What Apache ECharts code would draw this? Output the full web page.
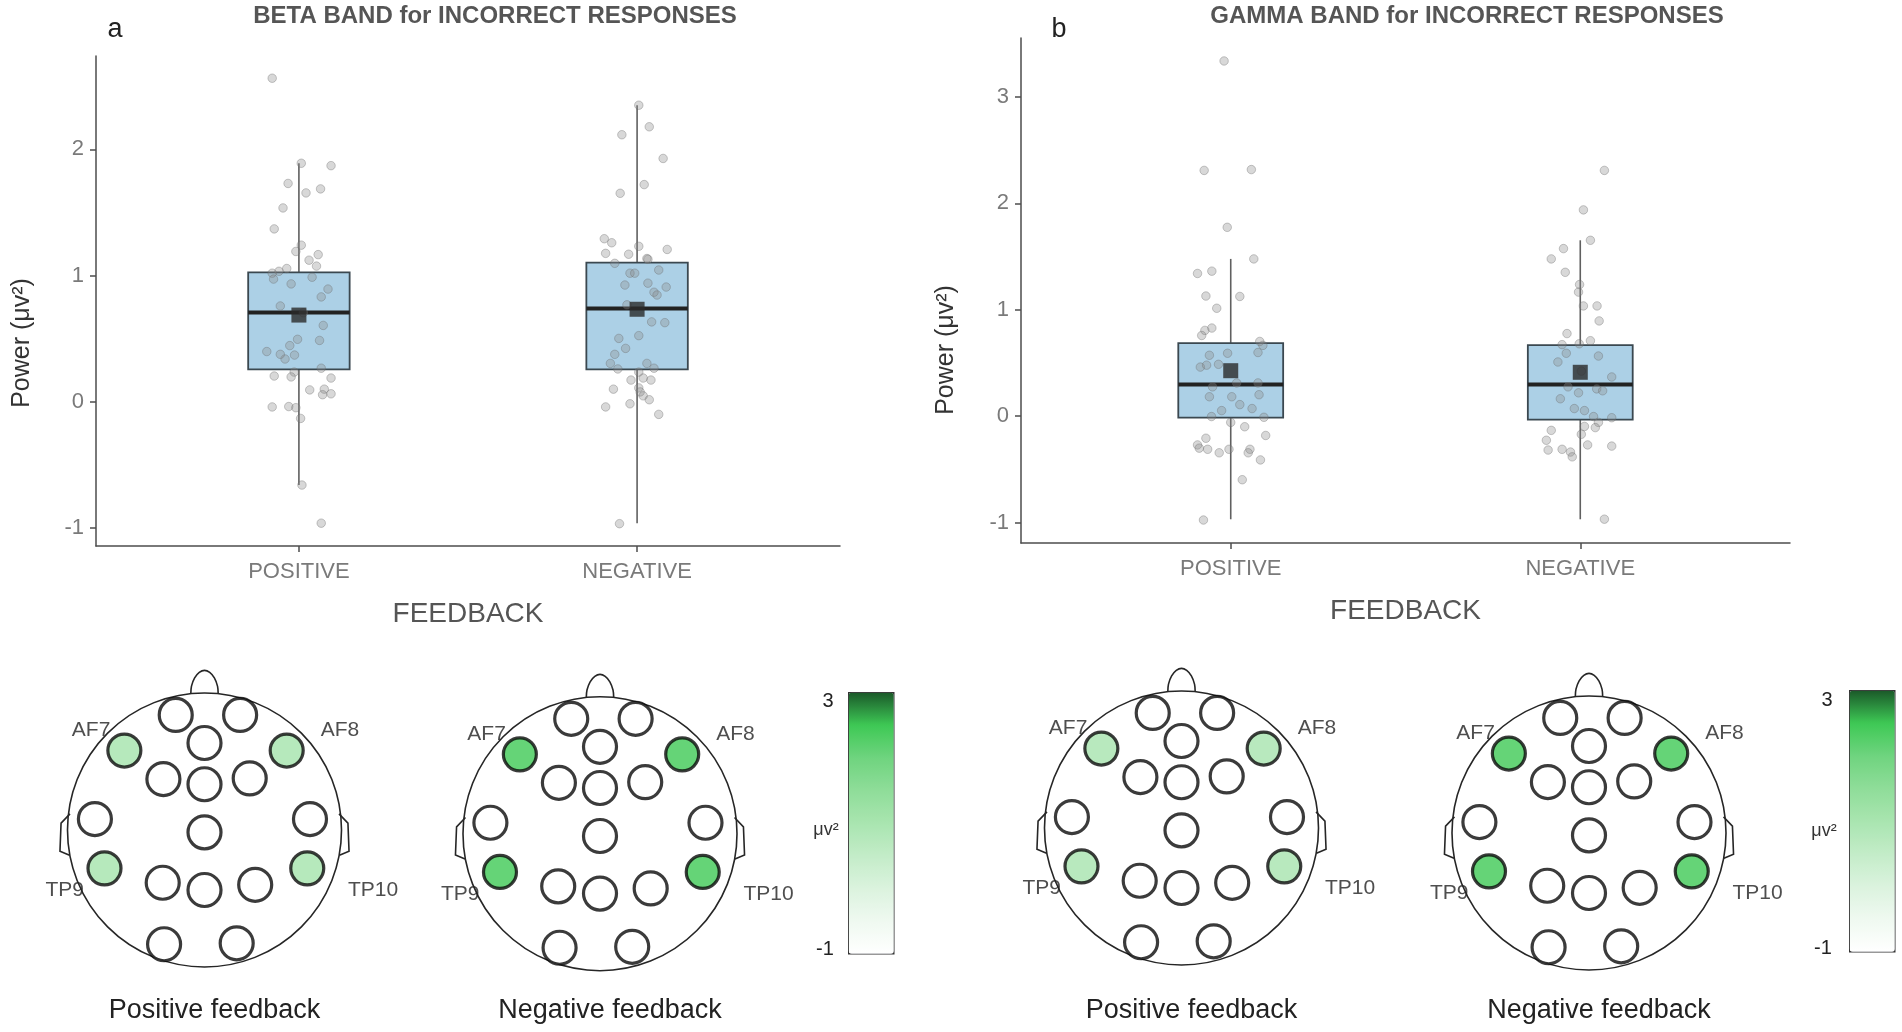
<!DOCTYPE html>
<html>
<head>
<meta charset="utf-8">
<script src="https://cdn.jsdelivr.net/npm/echarts@6/dist/echarts.min.js"></script>
<style>
html,body{margin:0;padding:0;background:#fff;}
#chart{width:1902px;height:1032px;}
</style>
</head>
<body>
<div id="chart"></div>
<script>
// ---------------- DATA ----------------
const categories = ['POSITIVE', 'NEGATIVE'];
const yTicksBeta = [-1, 0, 1, 2];
const yTicksGamma = [-1, 0, 1, 2, 3];

// [lower whisker, Q1, median, Q3, upper whisker]
const betaBox = [[-0.66, 0.257, 0.708, 1.025, 1.89], [-0.962, 0.257, 0.740, 1.103, 2.35]];
const betaMeans = [0.687, 0.733];
const gammaBox = [[-0.97, -0.015, 0.297, 0.687, 1.478], [-0.97, -0.033, 0.297, 0.668, 1.653]];
const gammaMeans = [0.427, 0.412];

// jittered observations: [horizontal jitter offset, power]
const betaPositivePoints = [
 [-0.079,2.564],[0.007,1.89],[0.095,1.871],[-0.032,1.730],[0.064,1.687],[0.021,1.655],[-0.047,1.536],
 [-0.073,1.370],[0.007,1.241],[-0.009,1.191],[0.057,1.166],[0.030,1.122],[0.052,1.075],[-0.036,1.056],
 [-0.059,1.034],[-0.079,1.019],[-0.075,0.972],[-0.023,0.934],[0.039,0.987],[0.086,0.893],[0.066,0.831],
 [-0.055,0.759],[0.013,0.705],[0.072,0.605],[-0.004,0.495],[0.061,0.486],[-0.027,0.445],[-0.095,0.398],
 [-0.041,0.339],[-0.013,0.370],[-0.055,0.376],[0.066,0.266],[-0.014,0.235],[-0.073,0.204],[-0.023,0.197],
 [0.095,0.188],[0.032,0.094],[0.075,0.100],[0.070,0.056],[0.095,0.063],[-0.079,-0.041],[-0.030,-0.038],
 [-0.009,-0.047],[0.005,-0.132],[0.009,-0.66],[0.066,-0.962]
];
const betaNegativePoints = [
 [0.005,2.35],[0.036,2.179],[-0.045,2.116],[0.077,1.928],[0.021,1.721],[-0.050,1.652],[-0.097,1.292],
 [-0.075,1.260],[0.005,1.232],[0.089,1.207],[-0.093,1.176],[-0.025,1.169],[0.029,1.135],[0.032,1.129],
 [-0.066,1.097],[-0.021,1.019],[-0.007,1.019],[0.064,1.044],[0.032,0.940],[-0.036,0.925],[0.086,0.909],
 [0.050,0.868],[0.059,0.846],[-0.030,0.768],[0.043,0.633],[0.082,0.627],[0.005,0.524],[-0.054,0.502],
 [-0.034,0.423],[-0.066,0.376],[-0.079,0.304],[0.029,0.304],[0.050,0.266],[-0.057,0.260],[0.005,0.235],
 [0.018,0.188],[-0.018,0.172],[0.041,0.172],[0.005,0.110],[-0.070,0.100],[0.009,0.078],[0.018,0.047],
 [0.036,0.016],[-0.021,-0.016],[-0.093,-0.041],[0.064,-0.100],[-0.052,-0.966]
];
const gammaPositivePoints = [
 [-0.019,3.339],[-0.076,2.310],[0.059,2.318],[-0.010,1.775],[0.066,1.478],[-0.095,1.341],[-0.054,1.363],
 [-0.071,1.129],[0.026,1.125],[-0.040,1.014],[-0.054,0.828],[-0.074,0.806],[-0.083,0.758],[0.083,0.702],
 [0.092,0.665],[-0.061,0.572],[-0.009,0.591],[0.078,0.598],[-0.087,0.461],[-0.069,0.479],[-0.035,0.487],
 [-0.052,0.275],[0.017,0.312],[0.078,0.312],[0.003,0.182],[0.081,0.201],[-0.061,0.182],[-0.026,0.052],
 [0.061,0.071],[0.026,0.108],[-0.055,-0.004],[0.095,-0.011],[0.000,-0.059],[0.040,-0.100],[0.100,-0.182],
 [-0.071,-0.208],[-0.095,-0.271],[-0.090,-0.301],[-0.066,-0.312],[-0.005,-0.312],[-0.033,-0.345],
 [0.055,-0.312],[0.050,-0.345],[0.085,-0.412],[0.033,-0.598],[-0.078,-0.977]
];
const gammaNegativePoints = [
 [0.069,2.310],[0.009,1.939],[0.029,1.653],[-0.048,1.575],[-0.083,1.478],[-0.043,1.352],[-0.002,1.237],
 [-0.005,1.166],[0.009,1.036],[0.048,1.036],[0.054,0.895],[-0.038,0.776],[0.029,0.709],[-0.052,0.672],
 [-0.003,0.680],[0.052,0.565],[-0.040,0.591],[-0.064,0.509],[0.003,0.423],[0.090,0.368],[-0.035,0.275],
 [0.047,0.256],[0.064,0.238],[-0.005,0.219],[-0.057,0.163],[-0.017,0.071],[0.012,0.052],[0.038,-0.004],
 [0.090,-0.015],[0.052,-0.059],[0.012,-0.097],[0.043,-0.108],[-0.083,-0.134],[0.003,-0.171],[-0.097,-0.227],
 [0.021,-0.271],[0.090,-0.282],[-0.092,-0.319],[-0.052,-0.312],[-0.028,-0.338],[-0.023,-0.383],[0.069,-0.969]
];

// topographic maps (head radius = 1)
const electrodeNames = ['Fp1','Fp2','Fpz','AF7','AF8','F3','Fz','F4','T7','T8','Cz','TP9','TP10','P3','Pz','P4','O1','O2'];
const electrodeX = [-0.21, 0.26, 0.0, -0.585, 0.60, -0.30, 0.0, 0.33, -0.80, 0.77, 0.0, -0.73, 0.75, -0.305, 0.0, 0.37, -0.295, 0.235];
const electrodeY = [0.84, 0.84, 0.635, 0.58, 0.58, 0.372, 0.334, 0.377, 0.08, 0.08, -0.017, -0.28, -0.28, -0.385, -0.438, -0.40, -0.834, -0.827];
const activeElectrodes = ['AF7', 'AF8', 'TP9', 'TP10'];
const betaPositiveValues = [1.1, 1.1, 1.1, 1.1];
const betaNegativeValues = [2.5, 2.5, 2.5, 2.5];
const gammaPositiveValues = [1.05, 1.05, 1.05, 1.05];
const gammaNegativeValues = [2.5, 2.5, 2.5, 2.5];
const labelNames = ['AF7', 'AF8', 'TP9', 'TP10'];
const labelX = [-0.828, 0.989, -1.02, 1.23];
const labelY = [0.730, 0.730, -0.44, -0.44];
const noseOutline = [[-0.10,0.995],[-0.095,1.05],[-0.072,1.11],[-0.038,1.15],[0,1.165],[0.038,1.15],[0.072,1.11],[0.095,1.05],[0.10,0.995]];
const leftEarOutline = [[-0.982,0.118],[-1.047,0.05],[-1.055,-0.155],[-0.985,-0.185]];
const rightEarOutline = leftEarOutline.map(p => [-p[0], p[1]]);
const colorScaleMin = -1, colorScaleMax = 3;
const colorScale = ['#ffffff','#eff9f0','#dbf3de','#c3ecc8','#a9e5b0','#8fdd99','#6fd47f','#3ec955','#1b5a2a'];
const headTitles = ['Positive feedback', 'Negative feedback', 'Positive feedback', 'Negative feedback'];

// ---------------- LAYOUT / STYLE ----------------
const FONT = "'Liberation Sans', Arial, sans-serif";
const AXIS_COLOR = '#4d4d4d';
const BOX_WIDTH = 0.30;
const HEAD_UNIT = 137;                  // px per head radius
const HEAD_RANGE = 1.45;
const headCenters = [[204.5, 830], [600, 834], [1181.5, 828], [1589, 833]];

const chart = echarts.init(document.getElementById('chart'), null, {renderer: 'canvas'});

function renderBox(params, api) {
  const x = api.value(0), lo = api.value(1), q1 = api.value(2), md = api.value(3), q3 = api.value(4), hi = api.value(5);
  const hw = BOX_WIDTH / 2;
  const pHi = api.coord([x, hi]), pQ3 = api.coord([x, q3]), pQ1 = api.coord([x, q1]), pLo = api.coord([x, lo]);
  const tl = api.coord([x - hw, q3]), br = api.coord([x + hw, q1]);
  const mL = api.coord([x - hw, md]), mR = api.coord([x + hw, md]);
  const ws = {stroke: '#606060', lineWidth: 1.6};
  return {type: 'group', children: [
    {type: 'line', shape: {x1: pHi[0], y1: pHi[1], x2: pQ3[0], y2: pQ3[1]}, style: ws},
    {type: 'line', shape: {x1: pQ1[0], y1: pQ1[1], x2: pLo[0], y2: pLo[1]}, style: ws},
    {type: 'rect', shape: {x: tl[0], y: tl[1], width: br[0] - tl[0], height: br[1] - tl[1]},
      style: {fill: '#acd0e6', stroke: '#3b4850', lineWidth: 1.8}},
    {type: 'line', shape: {x1: mL[0], y1: mL[1], x2: mR[0], y2: mR[1]}, style: {stroke: '#222222', lineWidth: 4}}
  ]};
}

function renderHead(params, api) {
  const c = api.coord([0, 0]);
  const e = api.coord([1, 0]);
  const r = e[0] - c[0];
  const pts = arr => arr.map(p => api.coord(p));
  const st = {stroke: '#262626', lineWidth: 1.6, fill: null};
  return {type: 'group', children: [
    {type: 'circle', shape: {cx: c[0], cy: c[1], r: r}, style: {stroke: '#262626', lineWidth: 1.6, fill: 'rgba(0,0,0,0)'}},
    {type: 'polyline', shape: {points: pts(noseOutline), smooth: 0.3}, style: st},
    {type: 'polyline', shape: {points: pts(leftEarOutline)}, style: st},
    {type: 'polyline', shape: {points: pts(rightEarOutline)}, style: st}
  ]};
}

const grids = [
  {left: 96, top: 56, width: 744, height: 490},
  {left: 1021, top: 38, width: 769, height: 505}
];
const xAxes = [], yAxes = [];

function boxAxes(gi, yMin, yMax, ticks) {
  xAxes.push({
    type: 'value', gridIndex: gi, min: 0.4, max: 2.6,
    axisLine: {show: true, onZero: false, lineStyle: {color: AXIS_COLOR, width: 1.5}},
    axisTick: {show: true, customValues: [1, 2], length: 6, lineStyle: {color: AXIS_COLOR, width: 1.5}},
    axisLabel: {customValues: [1, 2], formatter: v => categories[Math.round(v) - 1], color: '#7a7a7a',
      fontSize: 22, margin: 15, fontFamily: FONT},
    splitLine: {show: false},
    name: 'FEEDBACK', nameLocation: 'middle', nameGap: 54,
    nameTextStyle: {fontSize: 28, color: '#555555', fontFamily: FONT}
  });
  yAxes.push({
    type: 'value', gridIndex: gi, min: yMin, max: yMax,
    axisLine: {show: true, onZero: false, lineStyle: {color: AXIS_COLOR, width: 1.5}},
    axisTick: {show: true, customValues: ticks, length: 6, lineStyle: {color: AXIS_COLOR, width: 1.5}},
    axisLabel: {customValues: ticks, color: '#7a7a7a', fontSize: 22, margin: 12, fontFamily: FONT},
    splitLine: {show: false}
  });
}
boxAxes(0, -1.143, 2.74, yTicksBeta);
boxAxes(1, -1.193, 3.555, yTicksGamma);

const series = [];
function boxSeries(ai, box, means, posPts, negPts) {
  series.push({
    type: 'custom', xAxisIndex: ai, yAxisIndex: ai, renderItem: renderBox, clip: false, z: 2,
    data: box.map((b, i) => [i + 1].concat(b)), encode: {x: 0, y: [1, 2, 3, 4, 5]}
  });
  series.push({
    type: 'scatter', xAxisIndex: ai, yAxisIndex: ai, symbol: 'circle', symbolSize: 8.5, z: 3,
    itemStyle: {color: 'rgba(140,140,140,0.42)', borderColor: 'rgba(105,105,105,0.45)', borderWidth: 1},
    data: posPts.map(p => [1 + p[0], p[1]]).concat(negPts.map(p => [2 + p[0], p[1]]))
  });
  series.push({
    type: 'scatter', xAxisIndex: ai, yAxisIndex: ai, symbol: 'rect', symbolSize: 15, z: 4,
    itemStyle: {color: '#2b2b2b'},
    data: means.map((m, i) => [i + 1, m])
  });
}
boxSeries(0, betaBox, betaMeans, betaPositivePoints, betaNegativePoints);
boxSeries(1, gammaBox, gammaMeans, gammaPositivePoints, gammaNegativePoints);

const headValues = [betaPositiveValues, betaNegativeValues, gammaPositiveValues, gammaNegativeValues];
const activeSeriesIdx = [[], []];
headCenters.forEach((c, h) => {
  const gi = grids.length;
  const side = 2 * HEAD_RANGE * HEAD_UNIT;
  grids.push({left: c[0] - side / 2, top: c[1] - side / 2, width: side, height: side});
  xAxes.push({type: 'value', gridIndex: gi, min: -HEAD_RANGE, max: HEAD_RANGE, show: false});
  yAxes.push({type: 'value', gridIndex: gi, min: -HEAD_RANGE, max: HEAD_RANGE, show: false});
  series.push({type: 'custom', xAxisIndex: gi, yAxisIndex: gi, renderItem: renderHead, clip: false,
    data: [[0, 0]], encode: {x: 0, y: 1}, z: 2, silent: true});
  const inactive = [], active = [];
  electrodeNames.forEach((n, k) => {
    const ai = activeElectrodes.indexOf(n);
    if (ai < 0) inactive.push([electrodeX[k], electrodeY[k]]);
    else active.push([electrodeX[k], electrodeY[k], headValues[h][ai]]);
  });
  series.push({type: 'scatter', xAxisIndex: gi, yAxisIndex: gi, symbol: 'circle', symbolSize: 33, z: 3,
    itemStyle: {color: '#ffffff', borderColor: '#0a0a0a', borderWidth: 3.2}, data: inactive, silent: true});
  activeSeriesIdx[h < 2 ? 0 : 1].push(series.length);
  series.push({type: 'scatter', xAxisIndex: gi, yAxisIndex: gi, symbol: 'circle', symbolSize: 33, z: 3,
    itemStyle: {borderColor: '#0a0a0a', borderWidth: 3.2}, data: active, silent: true});
  series.push({type: 'scatter', xAxisIndex: gi, yAxisIndex: gi, symbolSize: 0, z: 5, silent: true, clip: false,
    label: {show: true, position: 'inside', formatter: p => p.data[2], color: '#222222', fontSize: 21, fontFamily: FONT},
    data: labelNames.map((n, k) => [labelX[k], labelY[k], n])});
});

function vm(idx, left, top) {
  return {type: 'continuous', min: colorScaleMin, max: colorScaleMax, dimension: 2, seriesIndex: idx,
    inRange: {color: colorScale}, calculable: false, orient: 'vertical', left: left, top: top,
    itemWidth: 45, itemHeight: 261, padding: 0, borderColor: '#333333', borderWidth: 1.5,
    text: null, hoverLink: false};
}

function txt(x, y, text, size, color, opts) {
  return Object.assign({type: 'text', x: x, y: y, silent: true,
    style: Object.assign({text: text, fontSize: size, fill: color, fontFamily: FONT, align: 'center', verticalAlign: 'middle'}, (opts && opts.style) || {})},
    (opts && opts.el) || {});
}

const graphics = [
  txt(495, 16, 'BETA BAND for INCORRECT RESPONSES', 24, '#555555', {style: {fontWeight: 'bold'}}),
  txt(1467, 16, 'GAMMA BAND for INCORRECT RESPONSES', 24, '#555555', {style: {fontWeight: 'bold'}}),
  txt(115, 30, 'a', 27, '#222222'),
  txt(1059, 30, 'b', 27, '#222222'),
  txt(22, 343, 'Power (μv²)', 25, '#333333', {el: {rotation: Math.PI / 2}}),
  txt(946, 350, 'Power (μv²)', 25, '#333333', {el: {rotation: Math.PI / 2}}),
  txt(828, 701, '3', 20, '#222222'),
  txt(825, 949, '-1', 20, '#222222'),
  txt(826, 830, 'μv²', 18, '#333333'),
  txt(1827, 700, '3', 20, '#222222'),
  txt(1823, 948, '-1', 20, '#222222'),
  txt(1824, 831, 'μv²', 18, '#333333')
];
headCenters.forEach((c, h) => graphics.push(txt(c[0] + 10, 1011, headTitles[h], 27, '#222222')));

chart.setOption({
  animation: false,
  backgroundColor: '#ffffff',
  grid: grids,
  xAxis: xAxes,
  yAxis: yAxes,
  visualMap: [vm(activeSeriesIdx[0], 848, 692), vm(activeSeriesIdx[1], 1849, 690)],
  series: series,
  graphic: graphics
});
</script>
</body>
</html>
